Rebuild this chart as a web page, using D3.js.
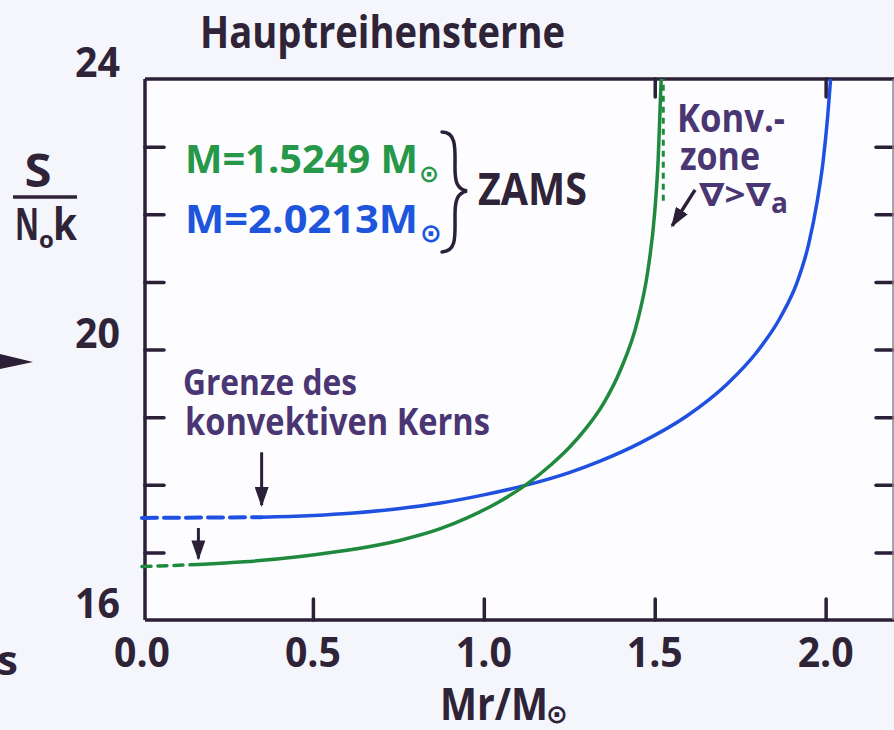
<!DOCTYPE html>
<html>
<head>
<meta charset="utf-8">
<script src="https://cdn.jsdelivr.net/npm/d3@7/dist/d3.min.js"></script>
<style>
  html, body { margin: 0; padding: 0; background: #f4f6fb; }
  svg { display: block; }
  text { font-family: "Open Sans", "DejaVu Sans", sans-serif; font-weight: 700; }
</style>
</head>
<body>
<svg id="chart" width="894" height="730"></svg>
<script>
// ---------------- data ----------------
const title = "Hauptreihensterne";
const xTickValues = [0.0, 0.5, 1.0, 1.5, 2.0];
const xTickLabels = ["0.0", "0.5", "1.0", "1.5", "2.0"];
const xInnerTicks = [0.5, 1.0, 1.5, 2.0];
const xTopTicks = [1.5, 2.0];
const yInnerTicks = [17, 18, 19, 20, 21, 22, 23];
const yTickValues = [16, 20, 24];
const yTickLabels = ["16", "20", "24"];

// M = 1.5249 Msun (green): [Mr/Msun, S/(N0 k)]
const greenCore = [[0.0, 16.79], [0.165, 16.82]];
const greenMr = [0.165, 0.30, 0.463, 0.60, 0.756, 0.873, 0.951, 1.04, 1.121, 1.20, 1.25, 1.30, 1.35, 1.40, 1.45, 1.48, 1.50, 1.51, 1.518, 1.519];
const greenS  = [16.82, 16.86, 16.94, 17.03, 17.18, 17.35, 17.51, 17.735, 17.99, 18.31, 18.55, 18.84, 19.20, 19.70, 20.43, 21.17, 22.03, 22.80, 23.88, 24.00];
const greenConvZone = [[1.525, 22.2], [1.525, 24.0]];

// M = 2.0213 Msun (blue)
const blueCore = [[0.0, 17.51], [0.35, 17.52]];
const blueMr = [0.35, 0.61, 0.756, 0.873, 1.0, 1.121, 1.25, 1.34, 1.458, 1.595, 1.712, 1.80, 1.867, 1.917, 1.95, 1.975, 1.993, 2.006, 2.013, 2.0145];
const blueS  = [17.52, 17.58, 17.65, 17.73, 17.85, 17.99, 18.18, 18.35, 18.62, 19.02, 19.49, 19.97, 20.47, 21.00, 21.55, 22.18, 22.80, 23.45, 23.90, 24.00];

// annotation arrows [from, to] in data units
const blueCoreArrow = [[0.35, 18.48], [0.35, 17.70]];
const greenCoreArrow = [[0.165, 17.36], [0.165, 16.91]];
const convArrow = [[1.618, 22.36], [1.551, 21.83]];

// ---------------- drawing ----------------
const svg = d3.select("#chart");
const C = { axis: "#2c1f38", text: "#2f2338", purple: "#4a3672", green: "#1f8a3d", greenT: "#27984a", blue: "#1f50e0", blueT: "#1d56dc" };

const x = d3.scaleLinear().domain([0, 2.2]).range([142, 894]);
const y = d3.scaleLinear().domain([16, 24]).range([620, 79]);
const xL = 145;

// backgrounds
svg.append("rect").attr("width", 894).attr("height", 730).attr("fill", "#f4f6fb");
svg.append("rect").attr("x", xL).attr("y", y(24)).attr("width", 893 - xL).attr("height", y(16) - y(24)).attr("fill", "#fdfdff");

// axes (ticks via d3 axes)
const ax = (g) => { g.select(".domain").remove(); g.selectAll("line").attr("stroke", C.axis).attr("stroke-width", 3.5).attr("stroke-linecap", "round"); g.selectAll("text").remove(); };
svg.append("g").attr("transform", `translate(0,${y(16)})`)
  .call(d3.axisBottom(x).tickValues(xInnerTicks).tickSizeInner(-21).tickSizeOuter(0)).call(ax);
svg.append("g").attr("transform", `translate(0,${y(24)})`)
  .call(d3.axisTop(x).tickValues(xTopTicks).tickSizeInner(-18).tickSizeOuter(0)).call(ax);
svg.append("g").attr("transform", `translate(${xL},0)`)
  .call(d3.axisLeft(y).tickValues(yInnerTicks).tickSizeInner(-19).tickSizeOuter(0)).call(ax);
svg.append("g").attr("transform", `translate(893,0)`)
  .call(d3.axisRight(y).tickValues(yInnerTicks).tickSizeInner(-17).tickSizeOuter(0)).call(ax);

// frame
const frame = svg.append("g").attr("stroke", C.axis).attr("stroke-width", 3.5).attr("fill", "none");
frame.append("line").attr("x1", xL).attr("x2", 894).attr("y1", y(24)).attr("y2", y(24));
frame.append("line").attr("x1", xL).attr("x2", 894).attr("y1", y(16)).attr("y2", y(16));
frame.append("line").attr("x1", xL).attr("x2", xL).attr("y1", y(24)).attr("y2", y(16));
frame.append("line").attr("x1", 893).attr("x2", 893).attr("y1", y(24)).attr("y2", y(16)).attr("stroke-width", 1.5).attr("stroke", "#8a8496");

// tick labels
svg.append("g").selectAll("text").data(xTickValues).join("text")
  .attr("x", d => x(d)).attr("y", y(16) + 47).attr("text-anchor", "middle")
  .attr("font-size", 41).attr("fill", C.text)
  .attr("textLength", 56).attr("lengthAdjust", "spacingAndGlyphs")
  .text((d, i) => xTickLabels[i]);
svg.append("g").selectAll("text").data(yTickValues).join("text")
  .attr("x", 120).attr("y", d => y(d) - 2).attr("text-anchor", "end")
  .attr("font-size", 42).attr("fill", C.text)
  .attr("textLength", 45).attr("lengthAdjust", "spacingAndGlyphs")
  .text((d, i) => yTickLabels[i]);

// title
svg.append("text").attr("x", 200).attr("y", 48).attr("font-size", 45).attr("fill", C.text)
  .attr("textLength", 365).attr("lengthAdjust", "spacingAndGlyphs").text(title);

// y label S / N0 k
svg.append("text").attr("x", 38).attr("y", 187).attr("text-anchor", "middle").attr("font-size", 47).attr("fill", C.text)
  .attr("textLength", 27).attr("lengthAdjust", "spacingAndGlyphs").text("S");
svg.append("line").attr("x1", 13).attr("x2", 77).attr("y1", 197).attr("y2", 197).attr("stroke", C.text).attr("stroke-width", 3.5);
svg.append("text").attr("x", 15).attr("y", 240).attr("font-size", 44).attr("fill", C.text)
  .attr("textLength", 24).attr("lengthAdjust", "spacingAndGlyphs").text("N");
svg.append("text").attr("x", 39).attr("y", 248).attr("font-size", 24).attr("fill", C.text).text("o");
svg.append("text").attr("x", 53).attr("y", 240).attr("font-size", 44).attr("fill", C.text)
  .attr("textLength", 24).attr("lengthAdjust", "spacingAndGlyphs").text("k");

// x label Mr/M⊙
svg.append("text").attr("x", 440).attr("y", 720).attr("font-size", 45).attr("fill", C.text)
  .attr("textLength", 108).attr("lengthAdjust", "spacingAndGlyphs").text("Mr/M");
svg.append("text").attr("x", 557).attr("y", 723).attr("text-anchor", "middle").attr("font-size", 26).attr("font-family", "DejaVu Sans").attr("fill", C.text).text("⊙");

// edge fragments
svg.append("path").attr("d", "M0,354 L33,362 L0,369 Z").attr("fill", C.axis);
svg.append("text").attr("x", -3).attr("y", 675).attr("font-size", 42).attr("fill", C.text).text("s");

// curves
const line = d3.line().x(d => x(d[0])).y(d => y(d[1])).curve(d3.curveMonotoneX);
const greenData = greenMr.map((m, i) => [m, greenS[i]]);
const blueData = blueMr.map((m, i) => [m, blueS[i]]);

svg.append("path").datum(blueCore).attr("d", line).attr("fill", "none").attr("stroke", C.blue)
  .attr("stroke-width", 4).attr("stroke-dasharray", "15 7").attr("stroke-linecap", "round");
svg.append("path").datum(greenCore).attr("d", line).attr("fill", "none").attr("stroke", C.green)
  .attr("stroke-width", 3.5).attr("stroke-dasharray", "9 7").attr("stroke-linecap", "round");
svg.append("path").datum(blueData).attr("d", line).attr("fill", "none").attr("stroke", C.blue).attr("stroke-width", 3.5);
svg.append("path").datum(greenData).attr("d", line).attr("fill", "none").attr("stroke", C.green).attr("stroke-width", 3.5);
svg.append("path").datum(greenConvZone).attr("d", d3.line().x(d => x(d[0])).y(d => y(d[1])))
  .attr("fill", "none").attr("stroke", C.green).attr("stroke-width", 3).attr("stroke-dasharray", "6 5");

// arrows
const defs = svg.append("defs");
defs.append("marker").attr("id", "ah").attr("viewBox", "0 0 20 14").attr("refX", 18).attr("refY", 7)
  .attr("markerWidth", 20).attr("markerHeight", 14).attr("markerUnits", "userSpaceOnUse").attr("orient", "auto")
  .append("path").attr("d", "M0,0 L20,7 L0,14 Z").attr("fill", C.axis);
const arrow = (pts, w) => svg.append("line")
  .attr("x1", x(pts[0][0])).attr("y1", y(pts[0][1])).attr("x2", x(pts[1][0])).attr("y2", y(pts[1][1]))
  .attr("stroke", C.axis).attr("stroke-width", w).attr("marker-end", "url(#ah)");
arrow(blueCoreArrow, 3);
arrow(greenCoreArrow, 3);
arrow(convArrow, 3.5);

// legend
svg.append("text").attr("x", 185).attr("y", 173).attr("font-size", 39).attr("fill", C.greenT)
  .attr("textLength", 233).attr("lengthAdjust", "spacingAndGlyphs").text("M=1.5249 M");
svg.append("text").attr("x", 429).attr("y", 182).attr("text-anchor", "middle").attr("font-size", 24).attr("font-family", "DejaVu Sans").attr("fill", C.greenT).text("⊙");
svg.append("text").attr("x", 185).attr("y", 233).attr("font-size", 39).attr("fill", C.blueT)
  .attr("textLength", 233).attr("lengthAdjust", "spacingAndGlyphs").text("M=2.0213M");
svg.append("text").attr("x", 431).attr("y", 242).attr("text-anchor", "middle").attr("font-size", 26).attr("font-family", "DejaVu Sans").attr("fill", C.blueT).text("⊙");
svg.append("path").attr("d", "M442,132 C457,132 455,150 455,168 C455,182 457,189 467,191 C457,193 455,201 455,215 C455,236 457,251 442,252")
  .attr("fill", "none").attr("stroke", C.axis).attr("stroke-width", 3.5).attr("stroke-linecap", "round");
svg.append("text").attr("x", 478).attr("y", 205).attr("font-size", 44).attr("fill", C.text)
  .attr("textLength", 109).attr("lengthAdjust", "spacingAndGlyphs").text("ZAMS");

// convective zone label
svg.append("text").attr("x", 677).attr("y", 132).attr("font-size", 40).attr("fill", C.purple)
  .attr("textLength", 108).attr("lengthAdjust", "spacingAndGlyphs").text("Konv.-");
svg.append("text").attr("x", 680).attr("y", 170).attr("font-size", 40).attr("fill", C.purple)
  .attr("textLength", 80).attr("lengthAdjust", "spacingAndGlyphs").text("zone");
svg.append("text").attr("x", 699).attr("y", 206).attr("font-size", 32).attr("font-family", "DejaVu Sans").attr("font-weight", "bold").attr("fill", C.purple)
  .attr("textLength", 72).attr("lengthAdjust", "spacingAndGlyphs").text("∇>∇");
svg.append("text").attr("x", 771).attr("y", 213).attr("font-size", 28).attr("fill", C.purple).text("a");

// core boundary label
svg.append("text").attr("x", 183).attr("y", 395).attr("font-size", 36).attr("fill", C.purple)
  .attr("textLength", 174).attr("lengthAdjust", "spacingAndGlyphs").text("Grenze des");
svg.append("text").attr("x", 185).attr("y", 435).attr("font-size", 37).attr("fill", C.purple)
  .attr("textLength", 305).attr("lengthAdjust", "spacingAndGlyphs").text("konvektiven Kerns");
</script>
</body>
</html>
